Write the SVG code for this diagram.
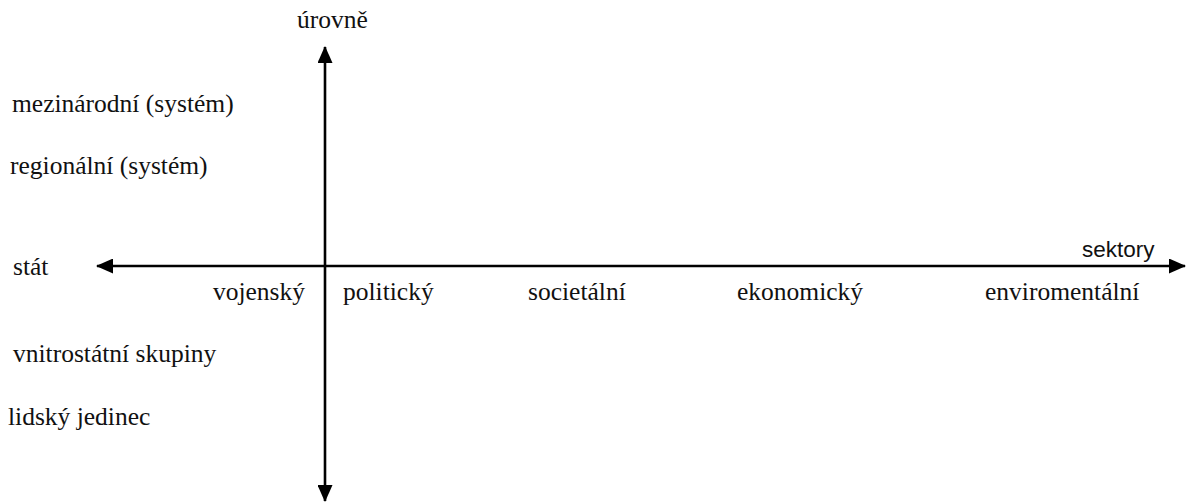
<svg xmlns="http://www.w3.org/2000/svg" width="1187" height="503" viewBox="0 0 1187 503">
  <style>
    .t { font-family: "Liberation Serif", "Times New Roman", serif; font-size: 25.5px; fill: #111; }
    .s { font-family: "Liberation Sans", Arial, sans-serif; font-size: 22.5px; fill: #111; }
    .axis { stroke: #000; stroke-width: 2.6; fill: none; }
  </style>
  <defs>
    <marker id="head" viewBox="0 0 17 15" refX="16" refY="7.5" markerWidth="17" markerHeight="15" markerUnits="userSpaceOnUse" orient="auto-start-reverse">
      <path d="M0,0 L17,7.5 L0,15 Z" fill="#000"/>
    </marker>
  </defs>
  <rect width="1187" height="503" fill="#fff"/>

  <g id="connectors">
    <line class="axis" x1="325" y1="47" x2="325" y2="501" marker-start="url(#head)" marker-end="url(#head)"/>
    <line class="axis" x1="97" y1="266" x2="1185" y2="266" marker-start="url(#head)" marker-end="url(#head)"/>
  </g>

  <g id="axis-labels">
    <text class="t" x="297" y="28">úrovně</text>
    <text class="s" x="1082" y="257">sektory</text>
  </g>

  <g id="levels">
    <text class="t" x="12" y="112">mezinárodní (systém)</text>
    <text class="t" x="10" y="174">regionální (systém)</text>
    <text class="t" x="13" y="275">stát</text>
    <text class="t" x="13" y="362">vnitrostátní skupiny</text>
    <text class="t" x="8" y="425">lidský jedinec</text>
  </g>

  <g id="sectors">
    <text class="t" x="305" y="300" text-anchor="end">vojenský</text>
    <text class="t" x="343" y="300">politický</text>
    <text class="t" x="528" y="300">societální</text>
    <text class="t" x="737" y="300">ekonomický</text>
    <text class="t" x="985" y="300">enviromentální</text>
  </g>
</svg>
